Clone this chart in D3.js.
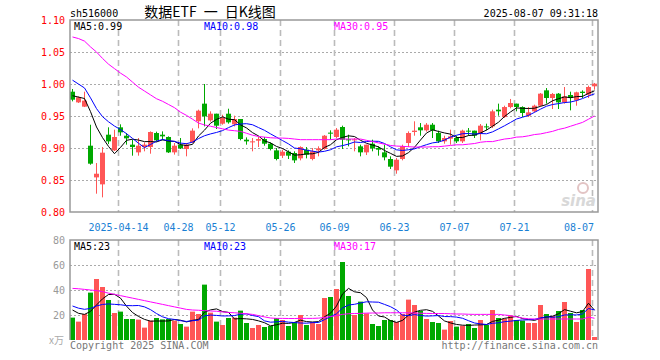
<!DOCTYPE html>
<html>
<head>
<meta charset="utf-8">
<script src="https://cdn.jsdelivr.net/npm/d3@7"></script>
<style>
    html, body { margin: 0; padding: 0; background: #fff; }
    svg { display: block; }
    text { font-family: "DejaVu Sans Mono", "Liberation Mono", monospace; font-size: 10px; }
</style>
</head>
<body>
<div id="chart"></div>
<script>
// Trading days shown (2025)
const dates = [
    "04-01","04-02","04-03","04-07","04-08","04-09","04-10","04-11","04-14","04-15","04-16","04-17","04-18",
    "04-21","04-22","04-23","04-24","04-25","04-28","04-29","04-30",
    "05-06","05-07","05-08","05-09","05-12","05-13","05-14","05-15","05-16","05-19","05-20","05-21","05-22","05-23",
    "05-26","05-27","05-28","05-29","05-30",
    "06-03","06-04","06-05","06-06","06-09","06-10","06-11","06-12","06-13","06-16","06-17","06-18","06-19","06-20",
    "06-23","06-24","06-25","06-26","06-27","06-30",
    "07-01","07-02","07-03","07-04","07-07","07-08","07-09","07-10","07-11","07-14","07-15","07-16","07-17","07-18",
    "07-21","07-22","07-23","07-24","07-25","07-28","07-29","07-30","07-31",
    "08-01","08-04","08-05","08-06","08-07"
].map(d => "2025-" + d);

const open = [
    0.988, 0.9713, 0.9646, 0.9036, 0.8541, 0.8432, 0.9208, 0.8963, 0.9323, 0.9192,
    0.9052, 0.8932, 0.9015, 0.9015, 0.9234, 0.9208, 0.9172, 0.8932, 0.9052, 0.8984,
    0.9088, 0.9417, 0.9693, 0.9432, 0.9536, 0.938, 0.9536, 0.937, 0.9453, 0.913,
    0.9088, 0.9114, 0.914, 0.9067, 0.8963, 0.888, 0.8942, 0.8922, 0.8838, 0.8974,
    0.8828, 0.8963, 0.8984, 0.924, 0.9172, 0.9328, 0.9135, 0.912, 0.9026, 0.8932,
    0.9067, 0.900, 0.8932, 0.8828, 0.8651, 0.8828, 0.9078, 0.925, 0.9323, 0.9276,
    0.9364, 0.9234, 0.9104, 0.9146, 0.9156, 0.9104, 0.9271, 0.9271, 0.9224, 0.9338,
    0.9338, 0.9599, 0.9484, 0.964, 0.9693, 0.964, 0.9505, 0.9573, 0.9661, 0.9901,
    0.9781, 0.9849, 0.9713, 0.9828, 0.9745, 0.988, 0.9833, 0.9964
];
const close = [
    0.9755, 0.9792, 0.974, 0.8755, 0.8598, 0.8927, 0.9104, 0.9172, 0.9245, 0.9151,
    0.9015, 0.9036, 0.9052, 0.925, 0.912, 0.9182, 0.8932, 0.9036, 0.8994, 0.9052,
    0.9271, 0.9583, 0.9495, 0.9536, 0.9349, 0.9469, 0.9401, 0.9453, 0.914, 0.9104,
    0.9104, 0.914, 0.9067, 0.8984, 0.8828, 0.8942, 0.888, 0.8807, 0.9015, 0.8896,
    0.8948, 0.8994, 0.9192, 0.9224, 0.9286, 0.913, 0.912, 0.9135, 0.8932, 0.9052,
    0.8994, 0.8974, 0.8854, 0.8708, 0.8817, 0.9026, 0.9234, 0.9271, 0.9276, 0.9364,
    0.9276, 0.9104, 0.9156, 0.9182, 0.9104, 0.9271, 0.926, 0.9192, 0.9349, 0.9328,
    0.9573, 0.9573, 0.964, 0.9703, 0.964, 0.9547, 0.9557, 0.9661, 0.9849, 0.9781,
    0.9844, 0.9713, 0.9807, 0.9781, 0.987, 0.986, 0.9953, 1.0005
];
const high = [
    0.9922, 0.9807, 0.988, 0.9364, 0.8765, 0.9015, 0.9323, 0.9286, 0.937, 0.9234,
    0.913, 0.9156, 0.9088, 0.926, 0.9255, 0.926, 0.9182, 0.9078, 0.9156, 0.9078,
    0.9307, 0.9599, 1.000, 0.9573, 0.9536, 0.952, 0.9614, 0.9505, 0.9453, 0.9166,
    0.9156, 0.9172, 0.9172, 0.9088, 0.900, 0.8974, 0.8963, 0.8948, 0.9026, 0.9015,
    0.900, 0.9026, 0.9203, 0.9276, 0.9312, 0.9349, 0.9208, 0.9156, 0.9052, 0.9052,
    0.913, 0.9026, 0.9052, 0.887, 0.8843, 0.9052, 0.926, 0.9417, 0.939, 0.939,
    0.939, 0.9271, 0.9192, 0.9286, 0.9192, 0.9286, 0.9312, 0.9271, 0.9375, 0.938,
    0.9599, 0.9693, 0.9661, 0.9766, 0.9693, 0.9651, 0.964, 0.9677, 0.9859, 0.9937,
    0.9859, 0.9859, 0.9953, 0.988, 0.988, 0.9901, 0.9974, 1.0016
];
const low = [
    0.9729, 0.9703, 0.964, 0.8739, 0.8286, 0.8229, 0.9062, 0.8953, 0.9192, 0.9052,
    0.888, 0.888, 0.8948, 0.8911, 0.9099, 0.912, 0.8922, 0.8896, 0.8984, 0.887,
    0.9078, 0.9307, 0.9338, 0.9411, 0.9297, 0.9364, 0.938, 0.9338, 0.912, 0.9052,
    0.8948, 0.9015, 0.9036, 0.8963, 0.8807, 0.8843, 0.8828, 0.8766, 0.8807, 0.8838,
    0.8807, 0.887, 0.8974, 0.913, 0.9151, 0.8984, 0.9026, 0.8948, 0.887, 0.889,
    0.8948, 0.888, 0.8807, 0.8672, 0.8598, 0.8807, 0.9015, 0.9192, 0.9192, 0.9255,
    0.9156, 0.9078, 0.9067, 0.9052, 0.9078, 0.9078, 0.9192, 0.9156, 0.912, 0.9276,
    0.9312, 0.9505, 0.9469, 0.962, 0.9573, 0.9484, 0.9484, 0.9557, 0.9651, 0.9693,
    0.9609, 0.9609, 0.9693, 0.9588, 0.9661, 0.9781, 0.9781, 0.9911
];
// volume, x10k
const volume = [
    17.9, 14.7, 20.8, 37.9, 48.8, 42.4, 32, 21.6, 22.7, 16.8,
    16.8, 16.3, 9.9, 15.5, 17.6, 16.5, 16.8, 15.5, 12.8, 10.7,
    22.7, 20.8, 44.3, 21.9, 14.7, 12, 17.6, 17.9, 23.5, 13.6,
    9.6, 12, 10.4, 11.2, 17.6, 16, 11.2, 14.4, 20, 12,
    14.4, 12.8, 33.6, 34.4, 40.8, 62.4, 35.2, 20, 30.7, 21.3,
    12.8, 11.2, 16, 16, 14.4, 20.8, 32.3, 28, 23.2, 16.8,
    14.4, 13.6, 8.3, 15.2, 10.7, 11.5, 12.8, 9.6, 16, 12,
    24, 17.6, 17.1, 19.7, 16, 15.5, 13.6, 13.6, 28, 20.8,
    19.2, 23.2, 30.4, 21.6, 14.4, 24, 56.8, 2.4
];

// closes / volumes just before the window, only used to warm up MA5 and MA10
const priorClose = [1.04, 1.035, 1.03, 1.028, 1.0185, 0.99, 0.985, 0.978, 0.98];
const priorVolume = [32, 30, 31, 29, 30, 28, 25, 26, 23.1];

// MA30 (needs history not shown)
const priceMa30 = [
    1.0735, 1.071, 1.067, 1.058, 1.050, 1.040, 1.031, 1.024, 1.017, 1.011,
    1.003, 0.995, 0.989, 0.983, 0.977, 0.973, 0.968, 0.963, 0.956, 0.951,
    0.945, 0.939, 0.936, 0.934, 0.932, 0.930, 0.928, 0.927, 0.926, 0.923,
    0.920, 0.918, 0.917, 0.916, 0.9155, 0.9155, 0.915, 0.914, 0.913, 0.913,
    0.913, 0.913, 0.913, 0.913, 0.914, 0.914, 0.914, 0.914, 0.914, 0.912,
    0.910, 0.908, 0.906, 0.904, 0.903, 0.9026, 0.902, 0.9015, 0.9015, 0.9015,
    0.902, 0.902, 0.903, 0.904, 0.905, 0.905, 0.906, 0.907, 0.909, 0.910,
    0.910, 0.912, 0.914, 0.915, 0.917, 0.9175, 0.919, 0.921, 0.922, 0.924,
    0.926, 0.929, 0.931, 0.934, 0.937, 0.940, 0.945, 0.950
];
const volumeMa30 = [
    41.3, 41, 40.5, 40, 39.5, 38.7, 37.5, 36.5, 35.5, 34.5,
    33.5, 32.5, 31.5, 30.5, 29.5, 28.5, 27.5, 26.5, 25.5, 24.5,
    24, 23.8, 23.5, 23.2, 23, 22.5, 22, 21.8, 21.4, 21,
    20.5, 19.5, 18.5, 17.6, 17.3, 17.3, 17.2, 17.2, 17.3, 17.3,
    17.3, 17.5, 18, 18.8, 19.5, 20.5, 21, 21.2, 21.3, 21.5,
    21.6, 21.6, 21.8, 21.8, 21.8, 21.8, 21.7, 21.6, 21.4, 21.3,
    21.2, 21.2, 21.2, 21, 20.8, 20.8, 20.6, 20.5, 20.5, 20.5,
    20.5, 20.5, 20, 19.5, 18.5, 17.5, 17, 16.8, 16.8, 16.8,
    16.8, 16.8, 16.8, 16.8, 16.8, 16.8, 18.3, 17.4
];

const tickDates = ["2025-04-14","2025-04-28","2025-05-12","2025-05-26","2025-06-09","2025-06-23","2025-07-07","2025-07-21","2025-08-07"];
const tickLabels = ["2025-04-14","04-28","05-12","05-26","06-09","06-23","07-07","07-21","08-07"];
const priceTicks = [0.80, 0.85, 0.90, 0.95, 1.00, 1.05, 1.10];
const volumeTicks = [20, 40, 60, 80];

const priceLegend = ["MA5:0.99", "MA10:0.98", "MA30:0.95"];
const volumeLegend = ["MA5:23", "MA10:23", "MA30:17"];
const maColors = ["#000000", "#0000ff", "#ff00ff"];

const RED = "#ff5656";
const GREEN = "#00a800";
const GRID = "#aaaaaa";
const BORDER = "#999999";

const width = 660, height = 360;
const left = 70, right = 598;
const priceTop = 20, priceBottom = 212;
const volTop = 240, volBottom = 340;

const svg = d3.select("#chart")
    .append("svg")
    .attr("width", width)
    .attr("height", height);

const x = d3.scaleBand().domain(dates).range([left, right]).padding(0);
const y = d3.scaleLinear().domain([0.80, 1.10]).range([priceBottom, priceTop]);
const yv = d3.scaleLinear().domain([0, 80]).range([volBottom, volTop]);

const idx = d3.range(dates.length);
const colorOf = i => close[i] >= open[i] ? RED : GREEN;
const cx = i => x(dates[i]) + 2.5;

const movingAvg = (values, prior, n) => {
    const all = prior.concat(values);
    return values.map((v, i) => d3.mean(all.slice(i + prior.length - n + 1, i + prior.length + 1)));
};

const priceMas = [movingAvg(close, priorClose, 5), movingAvg(close, priorClose, 10), priceMa30];
const volumeMas = [movingAvg(volume, priorVolume, 5), movingAvg(volume, priorVolume, 10), volumeMa30];

// grid: dotted horizontals
svg.append("g")
    .selectAll("line")
    .data(priceTicks.filter(d => d > 0.80 && d < 1.10))
    .join("line")
    .attr("x1", left).attr("x2", right)
    .attr("y1", d => Math.round(y(d)) + 0.5)
    .attr("y2", d => Math.round(y(d)) + 0.5)
    .attr("stroke", GRID)
    .attr("stroke-dasharray", "2,2");

svg.append("g")
    .selectAll("line")
    .data(volumeTicks.filter(d => d < 80))
    .join("line")
    .attr("x1", left).attr("x2", right)
    .attr("y1", d => Math.round(yv(d)) + 0.5)
    .attr("y2", d => Math.round(yv(d)) + 0.5)
    .attr("stroke", GRID)
    .attr("stroke-dasharray", "2,2");

// grid: dashed verticals on the date ticks, both panels
[[priceTop, priceBottom], [volTop, volBottom]].forEach(([t, b]) => {
    svg.append("g")
        .selectAll("line")
        .data(tickDates)
        .join("line")
        .attr("x1", d => x(d) + 0.5)
        .attr("x2", d => x(d) + 0.5)
        .attr("y1", t)
        .attr("y2", b)
        .attr("stroke", "#bbbbbb")
        .attr("stroke-width", 1.6)
        .attr("stroke-dasharray", "6,4");
});

// sina watermark
const mark = svg.append("g").attr("fill", "#d8d8d8");
mark.append("circle").attr("cx", 583).attr("cy", 188).attr("r", 5).attr("fill", "none").attr("stroke", "#e2c4c4").attr("stroke-width", 2);
mark.append("text")
    .attr("x", 596).attr("y", 206)
    .attr("text-anchor", "end")
    .style("font-family", "DejaVu Sans")
    .style("font-size", "15px")
    .style("font-style", "italic")
    .style("font-weight", "bold")
    .text("sina");

// candles
const candles = svg.append("g")
    .selectAll("g")
    .data(idx)
    .join("g");

candles.append("line")
    .attr("x1", i => cx(i))
    .attr("x2", i => cx(i))
    .attr("y1", i => y(high[i]))
    .attr("y2", i => y(low[i]))
    .attr("stroke", colorOf);

candles.append("rect")
    .attr("x", i => x(dates[i]))
    .attr("width", 5)
    .attr("y", i => y(Math.max(open[i], close[i])))
    .attr("height", i => Math.max(1, Math.abs(y(open[i]) - y(close[i]))))
    .attr("fill", colorOf);

// volume bars
svg.append("g")
    .selectAll("rect")
    .data(idx)
    .join("rect")
    .attr("x", i => x(dates[i]))
    .attr("width", 5)
    .attr("y", i => yv(volume[i]))
    .attr("height", i => yv(0) - yv(volume[i]))
    .attr("fill", colorOf);

// moving average lines
const drawMas = (mas, scale) => {
    mas.forEach((ma, k) => {
        svg.append("path")
            .datum(idx)
            .attr("fill", "none")
            .attr("stroke", maColors[k])
            .attr("stroke-width", 1)
            .attr("d", d3.line().x(i => cx(i)).y(i => scale(ma[i])));
    });
};
drawMas(priceMas, y);
drawMas(volumeMas, yv);

// panel borders
const border = svg.append("g").attr("stroke", BORDER).attr("fill", "none").attr("stroke-width", 1.5);
border.append("path").attr("d", `M${left},${priceTop}H${right}V${priceBottom}H${left}Z`);
border.append("path").attr("d", `M${left},${volBottom}V${volTop}H${right}V${volBottom}`);

// y axes
svg.append("g")
    .attr("transform", `translate(${left},0)`)
    .call(d3.axisLeft(y).tickValues(priceTicks).tickFormat(d3.format(".2f")).tickSize(0).tickPadding(5))
    .call(g => g.select(".domain").remove())
    .call(g => g.selectAll("text").attr("fill", "#ff0000").style("font-size", "10px").style("font-family", "DejaVu Sans Mono"));

svg.append("g")
    .attr("transform", `translate(${left},0)`)
    .call(d3.axisLeft(yv).tickValues(volumeTicks).tickSize(0).tickPadding(5))
    .call(g => g.select(".domain").remove())
    .call(g => g.selectAll("text").attr("fill", "#999").style("font-size", "10px").style("font-family", "DejaVu Sans Mono"));

svg.append("text")
    .attr("x", 64).attr("y", 344)
    .attr("text-anchor", "end")
    .attr("fill", "#aaa")
    .style("font-family", "Noto Sans CJK SC")
    .style("font-size", "10px")
    .text("x万");

// date labels
svg.append("g")
    .selectAll("text")
    .data(tickDates)
    .join("text")
    .attr("x", (d, i) => i === tickDates.length - 1 ? x(d) + 2 : x(d) + 0.5)
    .attr("y", 231)
    .attr("text-anchor", (d, i) => i === tickDates.length - 1 ? "end" : "middle")
    .attr("fill", "#1a7fd4")
    .text((d, i) => tickLabels[i]);

// legends
const legendX = [74, 204, 334];
svg.append("g")
    .selectAll("text")
    .data(priceLegend)
    .join("text")
    .attr("x", (d, i) => legendX[i])
    .attr("y", 30)
    .attr("fill", (d, i) => maColors[i])
    .text(d => d);

svg.append("g")
    .selectAll("text")
    .data(volumeLegend)
    .join("text")
    .attr("x", (d, i) => legendX[i])
    .attr("y", 250)
    .attr("fill", (d, i) => maColors[i])
    .text(d => d);

// header
svg.append("text").attr("x", 70).attr("y", 16.5).attr("fill", "#000").text("sh516000");
svg.append("text").attr("x", 598).attr("y", 16.5).attr("text-anchor", "end").attr("fill", "#000").text("2025-08-07 09:31:18");
svg.append("text")
    .attr("x", 210).attr("y", 17)
    .attr("text-anchor", "middle")
    .attr("fill", "#000")
    .style("font-family", "Noto Sans CJK SC")
    .style("font-size", "14px")
    .text("数据ETF\u2002一\u2002日K线图");

// footer
svg.append("text").attr("x", 70).attr("y", 349).attr("fill", "#777").text("Copyright 2025 SINA.COM");
svg.append("text").attr("x", 598).attr("y", 349).attr("text-anchor", "end").attr("fill", "#777").text("http://finance.sina.com.cn");
</script>
</body>
</html>
